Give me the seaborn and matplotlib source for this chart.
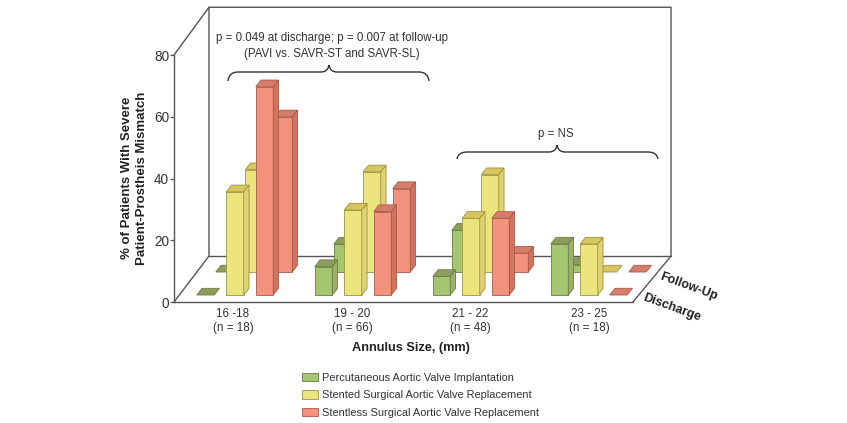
import matplotlib
matplotlib.use("Agg")
import matplotlib.pyplot as plt
import pandas as pd
import seaborn as sns
from matplotlib.patches import Patch, PathPatch, Polygon
from matplotlib.path import Path

# ---------- data ----------
sizes = ["16 -18", "19 - 20", "21 - 22", "23 - 25"]
counts = ["(n = 18)", "(n = 66)", "(n = 48)", "(n = 18)"]
valves = ["Percutaneous Aortic Valve Implantation",
          "Stented Surgical Aortic Valve Replacement",
          "Stentless Surgical Aortic Valve Replacement"]
discharge_pavi = [0, 9.2, 6, 16.5]
discharge_st = [33.4, 27.5, 24.8, 16.5]
discharge_sl = [67.4, 27, 24.8, 0]
followup_pavi = [0, 9, 13.5, 2.4]
followup_st = [33.1, 32.4, 31.5, 0]
followup_sl = [50.2, 27, 6.1, 0]
y_ticks = [0, 20, 40, 60, 80]

# ---------- style ----------
W, H = 847, 423
front_cols = ["#A5C670", "#ECE47C", "#F4937D"]
top_cols = ["#8F9C5E", "#D8C55E", "#D67C6A"]
side_cols = ["#9DAF6B", "#DED273", "#D2735F"]
edge_cols = ["#66803F", "#9A9440", "#A85A48"]
dark = "#555555"
txt = "#333333"
PX_PER_UNIT = 3.09
PX_PER_GROUP = 118.0

sns.set_theme(style="white")
plt.rcParams["font.family"] = ["Liberation Sans", "DejaVu Sans"]

fig = plt.figure(figsize=(W / 100, H / 100), dpi=100)


def long_table(a, b, c):
    rows = []
    for name, vals in zip(valves, (a, b, c)):
        for s, v in zip(sizes, vals):
            rows.append({"size": s, "valve": name, "pct": v})
    return pd.DataFrame(rows)


def draw_row(a, b, c, x0, y0, z):
    """One row of 3-D bars: a transparent seaborn axes shifted in depth."""
    ax = fig.add_axes([0, 0, 1, 1], zorder=z)
    sns.barplot(data=long_table(a, b, c), x="size", y="pct", hue="valve",
                order=sizes, hue_order=valves, palette=front_cols, saturation=1,
                width=0.75, gap=0.407, legend=False, ax=ax, linewidth=0)
    ax.set_xlim((0 - x0) / PX_PER_GROUP, (W - x0) / PX_PER_GROUP)
    ax.set_ylim((y0 - H) / PX_PER_UNIT, y0 / PX_PER_UNIT)
    ax.axis("off")
    dx = 5.3 / PX_PER_GROUP
    dy = 6.7 / PX_PER_UNIT
    n = len(sizes)
    for i, bar in enumerate(list(ax.patches)):
        k = i // n
        l, w, h = bar.get_x(), bar.get_width(), bar.get_height()
        r = l + w
        bar.set_edgecolor(edge_cols[k])
        bar.set_linewidth(0.6 if h > 0 else 0)
        bar.set_zorder(3)
        ax.add_patch(Polygon([(l, h), (r, h), (r + dx, h + dy), (l + dx, h + dy)],
                             closed=True, facecolor=top_cols[k], edgecolor=edge_cols[k],
                             linewidth=0.6, zorder=3))
        if h > 0:
            ax.add_patch(Polygon([(r, 0), (r + dx, dy), (r + dx, h + dy), (r, h)],
                                 closed=True, facecolor=side_cols[k], edgecolor=edge_cols[k],
                                 linewidth=0.6, zorder=3))
    return ax


# ---------- frame ----------
frame = fig.add_axes([174 / W, (H - 302) / H, (633 - 174) / W, (302 - 55) / H], zorder=1)
frame.patch.set_alpha(0)
frame.set_xlim(174, 633)
frame.set_ylim(0, 80)
sns.despine(ax=frame)
for s in ("left", "bottom"):
    frame.spines[s].set_color(dark)
    frame.spines[s].set_linewidth(1.0)
frame.set_yticks(y_ticks)
frame.tick_params(axis="y", length=3, width=0.9, color=dark, left=True, labelsize=9.8,
                  labelcolor=txt, pad=0.5)
frame.set_xticks([233, 352, 470, 589])
frame.set_xticklabels([f"{s}\n{c}" for s, c in zip(sizes, counts)], fontsize=8.4, color=txt,
                      linespacing=1.25)
frame.tick_params(axis="x", length=0, pad=4)
wall_dx, wall_dy, wall_top = 35, 46 / PX_PER_UNIT, (302 - 7) / PX_PER_UNIT
frame.plot([174, 174 + wall_dx, 174 + wall_dx, 671, 671, 633],
           [0, wall_dy, wall_top, wall_top, wall_dy, 0], color=dark, lw=1.0, clip_on=False)
frame.plot([174, 174 + wall_dx], [80, wall_top], color=dark, lw=1.0, clip_on=False)
frame.plot([174 + wall_dx, 671], [wall_dy, wall_dy], color=dark, lw=1.0, clip_on=False)

# ---------- bars ----------
draw_row(followup_pavi, followup_st, followup_sl, 254, 272, 2)
draw_row(discharge_pavi, discharge_st, discharge_sl, 235, 295, 3)

# ---------- overlay: text + braces ----------
over = fig.add_axes([0, 0, 1, 1], zorder=4)
over.set_xlim(0, W)
over.set_ylim(H, 0)
over.axis("off")


def brace(x1, xm, x2, y_end, y_flat, y_peak):
    verts = [(x1, y_end), (x1 + 1, y_flat), (x1 + 10, y_flat),
             (xm - 8, y_flat), (xm - 1, y_flat), (xm, y_peak),
             (xm + 1, y_flat), (xm + 8, y_flat), (x2 - 10, y_flat),
             (x2 - 1, y_flat), (x2, y_end)]
    codes = [Path.MOVETO, Path.CURVE3, Path.CURVE3,
             Path.LINETO, Path.CURVE3, Path.CURVE3,
             Path.CURVE3, Path.CURVE3, Path.LINETO,
             Path.CURVE3, Path.CURVE3]
    over.add_patch(PathPatch(Path(verts, codes), fill=False, edgecolor="#333333", lw=1.0))


brace(228, 329, 429, 81, 72, 65)
brace(457, 557, 658, 159, 152, 145)
over.text(331.5, 37.5, "p = 0.049 at discharge; p = 0.007 at follow-up", ha="center", va="center",
          fontsize=8.3, color=txt)
over.text(332, 54.5, "(PAVI vs. SAVR-ST and SAVR-SL)", ha="center", va="center", fontsize=8.3, color=txt)
over.text(556, 134, "p = NS", ha="center", va="center", fontsize=8.3, color=txt)
over.text(689, 287, "Follow-Up", rotation=-20, ha="center", va="center", fontsize=9,
          fontweight="bold", color="#222222", rotation_mode="anchor")
over.text(672, 308, "Discharge", rotation=-20, ha="center", va="center", fontsize=9,
          fontweight="bold", color="#222222", rotation_mode="anchor")
over.text(134.5, 178, "% of Patients With Severe\nPatient-Prostheis Mismatch", rotation=90,
          ha="center", va="center", fontsize=9.5, fontweight="bold", color="#222222",
          multialignment="center", linespacing=1.35)
over.text(411, 348, "Annulus Size, (mm)", ha="center", va="center", fontsize=9.2,
          fontweight="bold", color="#222222")

handles = [Patch(facecolor=f, edgecolor=e, linewidth=0.6) for f, e in zip(front_cols, edge_cols)]
fig.legend(handles, valves, loc="upper left", bbox_to_anchor=(293 / W, (H - 364) / H), frameon=False,
           fontsize=7.9, labelspacing=0.68, handlelength=1.45, handleheight=0.8, handletextpad=0.42,
           labelcolor=txt, borderpad=0.3)

fig.savefig("out.png", dpi=100, facecolor="white")
